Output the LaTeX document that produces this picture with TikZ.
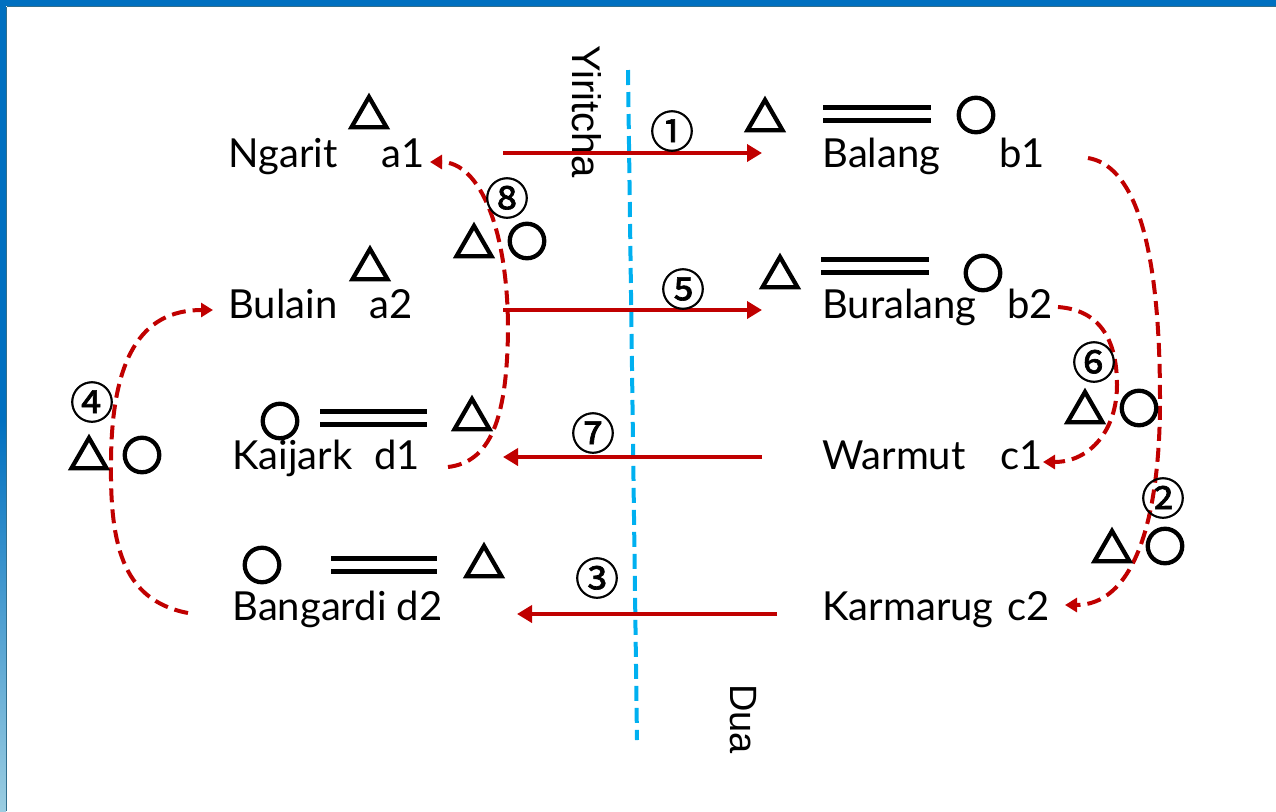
\documentclass[tikz,border=0pt]{standalone}
\usepackage{fontspec}
\setmainfont{Lato}
\newfontfamily\markfont[FakeBold=7]{Noto Sans CJK JP}
\newfontfamily\numfont[FakeBold=1.5]{Noto Sans CJK JP}
\newfontfamily\axisfont{Liberation Sans}
\usetikzlibrary{arrows.meta}

\definecolor{kinred}{RGB}{192,0,0}
\definecolor{moietyblue}{RGB}{0,176,240}
\definecolor{frameblue}{RGB}{0,112,192}
\definecolor{framelight}{RGB}{155,205,225}
\definecolor{frameedge}{RGB}{50,110,140}

\newcommand{\KinName}[3]{
  \node[kinname, anchor=base west] (#1) at #2 {#3};
}
\newcommand{\KinCode}[3]{
  \node[kinname, anchor=base east] (#1) at #2 {#3};
}
\newcommand{\KinTri}[2]{
  \node[kinmark] (#1) at #2 {△};
}
\newcommand{\KinCirc}[2]{
  \node[kinmark] (#1) at #2 {○};
}
\newcommand{\KinEqual}[3]{
  \draw[kinequal] (#1,#3) -- (#2,#3);
  \draw[kinequal] (#1,#3+13) -- (#2,#3+13);
}

\begin{document}
\begin{tikzpicture}[x=0.5pt, y=-0.5pt,
  kinname/.style={inner sep=0pt, font=\fontsize{20}{20}\selectfont},
  kinmark/.style={inner sep=0pt, font=\markfont\fontsize{20}{20}\selectfont},
  kinnum/.style={inner sep=0pt, font=\numfont\fontsize{22}{22}\selectfont},
  moietyname/.style={inner sep=0pt, rotate=-90, anchor=base west},
  kinequal/.style={line width=2.5pt},
  kinarrow/.style={kinred, line width=2pt, -{Triangle[length=7.5pt,width=8.5pt]}},
  kinloop/.style={kinred, line width=2pt, dash pattern=on 7pt off 3.5pt,
    -{Triangle[length=6pt,width=7pt]}},
  moiety/.style={moietyblue, line width=2pt, dash pattern=on 7.5pt off 3.5pt}]
\useasboundingbox (0,0) rectangle (1276,811);

% slide frame
\fill[frameblue] (0,0) rectangle (1276,6);
\fill[frameblue] (0,0) rectangle (6,420);
\shade[top color=frameblue, bottom color=framelight] (0,420) rectangle (6,811);
\draw[frameedge, line width=0.6pt] (6.5,6.5) -- (1276,6.5);
\draw[frameedge, line width=0.6pt] (6.5,6.5) -- (6.5,811);

% moiety divide
\coordinate (top) at (628,70);
\coordinate (bottom) at (637,740);
\draw[moiety] (top) -- (bottom);
\node[moietyname, font=\axisfont\fontsize{20}{20}\selectfont] (yiritcha) at (572,45) {Yiritcha};
\node[moietyname, font=\axisfont\fontsize{19}{19}\selectfont] (dua) at (730,684) {Dua};

% left side
\KinName{ngarit}{(228,167)}{Ngarit}
\KinCode{a1}{(425,167)}{a1}
\KinName{bulain}{(228,318)}{Bulain}
\KinCode{a2}{(413,318)}{a2}
\KinName{kaijark}{(232,469)}{Kaijark}
\KinCode{d1}{(420,469)}{d1}
\KinName{bangardi}{(232,620)}{Bangardi d2}

% right side
\KinName{balang}{(822,167)}{Balang}
\KinCode{b1}{(1045,167)}{b1}
\KinName{buralang}{(822,318)}{Buralang}
\KinCode{b2}{(1053,318)}{b2}
\KinName{warmut}{(822,469)}{Warmut}
\KinCode{c1}{(1043,469)}{c1}
\KinName{karmarug}{(822,620)}{Karmarug}
\KinCode{c2}{(1050,620)}{c2}

% marriage marks
\KinTri{tria1}{(369,112)}
\KinTri{tria2}{(370,264)}
\KinCirc{circd1}{(280,421)}
\KinEqual{320}{427}{411}
\KinTri{trid1}{(472,414)}
\KinCirc{circd2}{(262,565)}
\KinEqual{331}{437}{558}
\KinTri{trid2}{(484,561)}
\KinTri{trib1}{(765,115)}
\KinEqual{823}{931}{107}
\KinCirc{circb1}{(976,115)}
\KinTri{trib2}{(780,272)}
\KinEqual{821}{929}{259}
\KinCirc{circb2}{(983,273)}

% exchanges across the moieties
\draw[kinarrow] ([xshift=39pt,yshift=7pt]a1.base east) -- ([xshift=-30pt,yshift=7pt]balang.base west);
\draw[kinarrow] ([xshift=45pt,yshift=4pt]a2.base east) -- ([xshift=-30pt,yshift=4pt]buralang.base west);
\draw[kinarrow] ([xshift=-30pt,yshift=6pt]warmut.base west) -- ([xshift=41.5pt,yshift=6pt]d1.base east);
\draw[kinarrow] ([xshift=-22.5pt,yshift=3pt]karmarug.base west) -- ([xshift=142.5pt,yshift=3pt]bangardi.base west);
\node[kinnum] (n1) at (672,131) {①};
\node[kinnum] (n5) at (683,289) {⑤};
\node[kinnum] (n7) at (593,433) {⑦};
\node[kinnum] (n3) at (597,578) {③};

% descent within a moiety
\draw[kinloop] ([xshift=14pt,yshift=1pt]d1.base east)
  .. controls (490,462) and (507,420) .. (508,330)
  .. controls (508,230) and (480,162) .. ([xshift=2.5pt,yshift=2.5pt]a1.base east);
\draw[kinloop] ([xshift=-22pt,yshift=3.5pt]bangardi.base west)
  .. controls (120,600) and (110,540) .. (111,460)
  .. controls (112,360) and (140,310) .. ([xshift=-7.5pt,yshift=4pt]bulain.base west);
\draw[kinloop] ([xshift=2.5pt,yshift=5.5pt]b2.base east)
  .. controls (1100,310) and (1117,340) .. (1117,385)
  .. controls (1117,430) and (1090,462) .. ([yshift=3.5pt]c1.base east);
\draw[kinloop] ([xshift=21.5pt,yshift=4.5pt]b1.base east)
  .. controls (1130,165) and (1160,230) .. (1160,400)
  .. controls (1160,530) and (1130,605) .. ([xshift=7.5pt,yshift=7.5pt]c2.base east);

\node[kinnum] (n8) at (507,198) {⑧};
\KinTri{tri8}{(474,241)}
\KinCirc{circ8}{(527,241)}
\node[kinnum] (n4) at (92,402) {④};
\KinTri{tri4}{(89,453)}
\KinCirc{circ4}{(142,455)}
\node[kinnum] (n6) at (1094,362) {⑥};
\KinTri{tri6}{(1085,407)}
\KinCirc{circ6}{(1139,408)}
\node[kinnum] (n2) at (1163,498) {②};
\KinTri{tri2}{(1112,546)}
\KinCirc{circ2}{(1165,546)}

\end{tikzpicture}
\end{document}
